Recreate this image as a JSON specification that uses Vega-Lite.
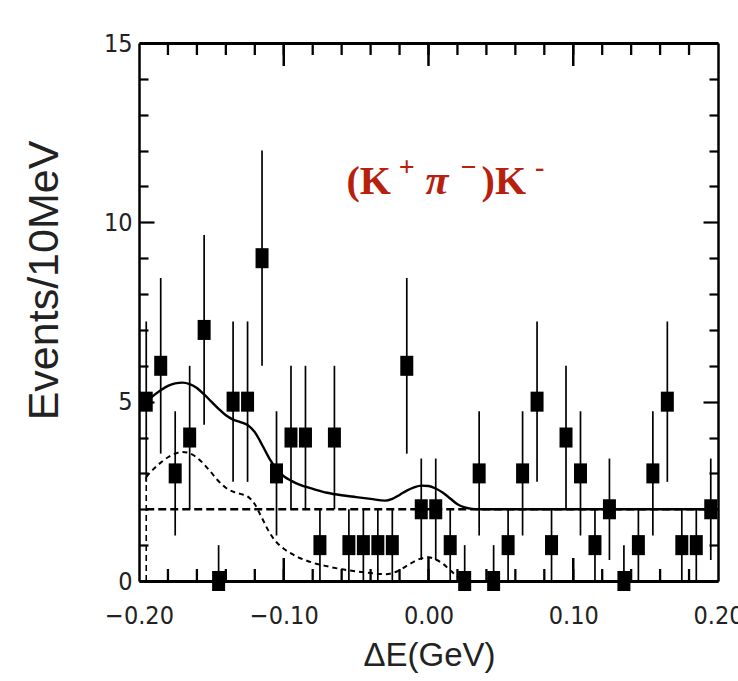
{
  "$schema": "https://vega.github.io/schema/vega-lite/v6.json",
  "width": 579,
  "height": 538,
  "autosize": "none",
  "padding": {"left": 139, "top": 43, "right": 20, "bottom": 100},
  "background": "white",
  "config": {"view": {"stroke": null}},
  "datasets": {
    "pts": [
      {"x": -0.195, "n": 5, "lo": 2.764, "hi": 7.236},
      {"x": -0.185, "n": 6, "lo": 3.551, "hi": 8.449},
      {"x": -0.175, "n": 3, "lo": 1.268, "hi": 4.732},
      {"x": -0.165, "n": 4, "lo": 2, "hi": 6},
      {"x": -0.155, "n": 7, "lo": 4.354, "hi": 9.646},
      {"x": -0.145, "n": 0, "lo": 0, "hi": 1},
      {"x": -0.135, "n": 5, "lo": 2.764, "hi": 7.236},
      {"x": -0.125, "n": 5, "lo": 2.764, "hi": 7.236},
      {"x": -0.115, "n": 9, "lo": 6, "hi": 12},
      {"x": -0.105, "n": 3, "lo": 1.268, "hi": 4.732},
      {"x": -0.095, "n": 4, "lo": 2, "hi": 6},
      {"x": -0.085, "n": 4, "lo": 2, "hi": 6},
      {"x": -0.075, "n": 1, "lo": 0, "hi": 2},
      {"x": -0.065, "n": 4, "lo": 2, "hi": 6},
      {"x": -0.055, "n": 1, "lo": 0, "hi": 2},
      {"x": -0.045, "n": 1, "lo": 0, "hi": 2},
      {"x": -0.035, "n": 1, "lo": 0, "hi": 2},
      {"x": -0.025, "n": 1, "lo": 0, "hi": 2},
      {"x": -0.015, "n": 6, "lo": 3.551, "hi": 8.449},
      {"x": -0.005, "n": 2, "lo": 0.586, "hi": 3.414},
      {"x": 0.005, "n": 2, "lo": 0.586, "hi": 3.414},
      {"x": 0.015, "n": 1, "lo": 0, "hi": 2},
      {"x": 0.025, "n": 0, "lo": 0, "hi": 1},
      {"x": 0.035, "n": 3, "lo": 1.268, "hi": 4.732},
      {"x": 0.045, "n": 0, "lo": 0, "hi": 1},
      {"x": 0.055, "n": 1, "lo": 0, "hi": 2},
      {"x": 0.065, "n": 3, "lo": 1.268, "hi": 4.732},
      {"x": 0.075, "n": 5, "lo": 2.764, "hi": 7.236},
      {"x": 0.085, "n": 1, "lo": 0, "hi": 2},
      {"x": 0.095, "n": 4, "lo": 2, "hi": 6},
      {"x": 0.105, "n": 3, "lo": 1.268, "hi": 4.732},
      {"x": 0.115, "n": 1, "lo": 0, "hi": 2},
      {"x": 0.125, "n": 2, "lo": 0.586, "hi": 3.414},
      {"x": 0.135, "n": 0, "lo": 0, "hi": 1},
      {"x": 0.145, "n": 1, "lo": 0, "hi": 2},
      {"x": 0.155, "n": 3, "lo": 1.268, "hi": 4.732},
      {"x": 0.165, "n": 5, "lo": 2.764, "hi": 7.236},
      {"x": 0.175, "n": 1, "lo": 0, "hi": 2},
      {"x": 0.185, "n": 1, "lo": 0, "hi": 2},
      {"x": 0.195, "n": 2, "lo": 0.586, "hi": 3.414}
    ],
    "xticks": [
      {"x": -0.18, "k": "minor"}, {"x": -0.16, "k": "minor"}, {"x": -0.14, "k": "minor"}, {"x": -0.12, "k": "minor"},
      {"x": -0.1, "k": "major"}, {"x": -0.08, "k": "minor"}, {"x": -0.06, "k": "minor"}, {"x": -0.04, "k": "minor"},
      {"x": -0.02, "k": "minor"}, {"x": 0, "k": "major"}, {"x": 0.02, "k": "minor"}, {"x": 0.04, "k": "minor"},
      {"x": 0.06, "k": "minor"}, {"x": 0.08, "k": "minor"}, {"x": 0.1, "k": "major"}, {"x": 0.12, "k": "minor"},
      {"x": 0.14, "k": "minor"}, {"x": 0.16, "k": "minor"}, {"x": 0.18, "k": "minor"}
    ],
    "curves": [
      {"s": "total", "x": -0.195, "y": 5.0},
      {"s": "total", "x": -0.19, "y": 5.17},
      {"s": "total", "x": -0.185, "y": 5.32},
      {"s": "total", "x": -0.18, "y": 5.44},
      {"s": "total", "x": -0.175, "y": 5.51},
      {"s": "total", "x": -0.17, "y": 5.53},
      {"s": "total", "x": -0.165, "y": 5.49},
      {"s": "total", "x": -0.16, "y": 5.38},
      {"s": "total", "x": -0.155, "y": 5.2},
      {"s": "total", "x": -0.15, "y": 5.0},
      {"s": "total", "x": -0.145, "y": 4.8},
      {"s": "total", "x": -0.14, "y": 4.62},
      {"s": "total", "x": -0.135, "y": 4.5},
      {"s": "total", "x": -0.13, "y": 4.43},
      {"s": "total", "x": -0.125, "y": 4.35},
      {"s": "total", "x": -0.12, "y": 4.15},
      {"s": "total", "x": -0.115, "y": 3.8},
      {"s": "total", "x": -0.11, "y": 3.42},
      {"s": "total", "x": -0.105, "y": 3.12},
      {"s": "total", "x": -0.1, "y": 2.92},
      {"s": "total", "x": -0.095, "y": 2.8},
      {"s": "total", "x": -0.09, "y": 2.7},
      {"s": "total", "x": -0.085, "y": 2.63},
      {"s": "total", "x": -0.08, "y": 2.57},
      {"s": "total", "x": -0.07, "y": 2.46},
      {"s": "total", "x": -0.06, "y": 2.39},
      {"s": "total", "x": -0.05, "y": 2.34},
      {"s": "total", "x": -0.04, "y": 2.29},
      {"s": "total", "x": -0.03, "y": 2.24},
      {"s": "total", "x": -0.025, "y": 2.29},
      {"s": "total", "x": -0.02, "y": 2.4},
      {"s": "total", "x": -0.015, "y": 2.52},
      {"s": "total", "x": -0.01, "y": 2.61},
      {"s": "total", "x": -0.005, "y": 2.66},
      {"s": "total", "x": 0.0, "y": 2.65},
      {"s": "total", "x": 0.005, "y": 2.58},
      {"s": "total", "x": 0.01, "y": 2.46},
      {"s": "total", "x": 0.015, "y": 2.3},
      {"s": "total", "x": 0.02, "y": 2.14},
      {"s": "total", "x": 0.025, "y": 2.05},
      {"s": "total", "x": 0.03, "y": 2.01},
      {"s": "total", "x": 0.035, "y": 2.0},
      {"s": "total", "x": 0.2, "y": 2.0},
      {"s": "peak", "x": -0.195, "y": 2.9},
      {"s": "peak", "x": -0.19, "y": 3.12},
      {"s": "peak", "x": -0.185, "y": 3.3},
      {"s": "peak", "x": -0.18, "y": 3.45},
      {"s": "peak", "x": -0.175, "y": 3.55},
      {"s": "peak", "x": -0.17, "y": 3.6},
      {"s": "peak", "x": -0.165, "y": 3.56},
      {"s": "peak", "x": -0.16, "y": 3.44},
      {"s": "peak", "x": -0.155, "y": 3.25},
      {"s": "peak", "x": -0.15, "y": 3.02},
      {"s": "peak", "x": -0.145, "y": 2.78},
      {"s": "peak", "x": -0.14, "y": 2.6},
      {"s": "peak", "x": -0.135, "y": 2.49},
      {"s": "peak", "x": -0.13, "y": 2.43},
      {"s": "peak", "x": -0.125, "y": 2.36},
      {"s": "peak", "x": -0.12, "y": 2.14},
      {"s": "peak", "x": -0.115, "y": 1.75},
      {"s": "peak", "x": -0.11, "y": 1.36},
      {"s": "peak", "x": -0.105, "y": 1.08},
      {"s": "peak", "x": -0.1, "y": 0.9},
      {"s": "peak", "x": -0.095, "y": 0.77},
      {"s": "peak", "x": -0.09, "y": 0.66},
      {"s": "peak", "x": -0.085, "y": 0.58},
      {"s": "peak", "x": -0.08, "y": 0.51},
      {"s": "peak", "x": -0.07, "y": 0.41},
      {"s": "peak", "x": -0.06, "y": 0.33},
      {"s": "peak", "x": -0.05, "y": 0.27},
      {"s": "peak", "x": -0.04, "y": 0.22},
      {"s": "peak", "x": -0.03, "y": 0.19},
      {"s": "peak", "x": -0.025, "y": 0.22},
      {"s": "peak", "x": -0.02, "y": 0.3},
      {"s": "peak", "x": -0.015, "y": 0.42},
      {"s": "peak", "x": -0.01, "y": 0.54},
      {"s": "peak", "x": -0.005, "y": 0.63},
      {"s": "peak", "x": 0.0, "y": 0.66},
      {"s": "peak", "x": 0.005, "y": 0.6},
      {"s": "peak", "x": 0.01, "y": 0.48},
      {"s": "peak", "x": 0.015, "y": 0.3},
      {"s": "peak", "x": 0.02, "y": 0.13},
      {"s": "peak", "x": 0.025, "y": 0.03},
      {"s": "peak", "x": 0.03, "y": 0.0},
      {"s": "bkg", "x": -0.195, "y": 2.0},
      {"s": "bkg", "x": 0.2, "y": 2.0}
    ],
    "verticals": [
      {"x": -0.195, "y": 0, "y2": 2.9}
    ],
    "labelMain": [
      {"x": -0.0567, "y": 10.8, "t": "(K"},
      {"x": 0.0367, "y": 10.8, "t": ")K"}
    ],
    "labelPi": [
      {"x": -0.0021, "y": 10.8, "t": "π"}
    ],
    "labelSup": [
      {"x": -0.0205, "y": 11.3, "t": "+"},
      {"x": 0.0222, "y": 11.3, "t": "−"},
      {"x": 0.0735, "y": 11.3, "t": "-"}
    ]
  },
  "layer": [
    {
      "data": {"name": "xticks"},
      "mark": {"type": "rule", "color": "black", "strokeWidth": 2.3},
      "encoding": {
        "x": {"field": "x", "type": "quantitative", "scale": {"domain": [-0.2, 0.2], "nice": false, "zero": false}, "axis": null},
        "y": {"datum": 0, "type": "quantitative", "scale": {"domain": [0, 15], "nice": false}, "axis": null},
        "y2": {"datum": 0.334}
      }
    },
    {
      "data": {"name": "xticks"},
      "mark": {"type": "rule", "color": "black", "strokeWidth": 2.3},
      "encoding": {
        "x": {"field": "x", "type": "quantitative", "axis": null},
        "y": {"datum": 15, "type": "quantitative", "axis": null},
        "y2": {"datum": 14.666}
      }
    },
    {
      "data": {"name": "xticks"},
      "transform": [{"filter": "datum.k === 'major'"}],
      "mark": {"type": "rule", "color": "black", "strokeWidth": 2.5},
      "encoding": {
        "x": {"field": "x", "type": "quantitative", "axis": null},
        "y": {"datum": 0, "type": "quantitative", "axis": null},
        "y2": {"datum": 0.641}
      }
    },
    {
      "data": {"name": "xticks"},
      "transform": [{"filter": "datum.k === 'major'"}],
      "mark": {"type": "rule", "color": "black", "strokeWidth": 2.5},
      "encoding": {
        "x": {"field": "x", "type": "quantitative", "axis": null},
        "y": {"datum": 15, "type": "quantitative", "axis": null},
        "y2": {"datum": 14.359}
      }
    },
    {
      "data": {"name": "curves"},
      "transform": [{"filter": "datum.s === 'total'"}],
      "mark": {"type": "line", "color": "black", "strokeWidth": 2.4, "interpolate": "monotone"},
      "encoding": {
        "x": {"field": "x", "type": "quantitative", "axis": null},
        "y": {"field": "y", "type": "quantitative", "axis": null}
      }
    },
    {
      "data": {"name": "curves"},
      "transform": [{"filter": "datum.s === 'peak'"}],
      "mark": {"type": "line", "color": "black", "strokeWidth": 2, "strokeDash": [5, 4], "interpolate": "monotone"},
      "encoding": {
        "x": {"field": "x", "type": "quantitative", "axis": null},
        "y": {"field": "y", "type": "quantitative", "axis": null}
      }
    },
    {
      "data": {"name": "curves"},
      "transform": [{"filter": "datum.s === 'bkg'"}],
      "mark": {"type": "line", "color": "black", "strokeWidth": 2.4, "strokeDash": [8, 4]},
      "encoding": {
        "x": {"field": "x", "type": "quantitative", "axis": null},
        "y": {"field": "y", "type": "quantitative", "axis": null}
      }
    },
    {
      "data": {"name": "verticals"},
      "mark": {"type": "rule", "color": "black", "strokeWidth": 1.6, "strokeDash": [6, 4]},
      "encoding": {
        "x": {"field": "x", "type": "quantitative", "axis": null},
        "y": {"field": "y", "type": "quantitative", "axis": null},
        "y2": {"field": "y2"}
      }
    },
    {
      "data": {"name": "pts"},
      "mark": {"type": "rule", "color": "black", "strokeWidth": 1.7},
      "encoding": {
        "x": {"field": "x", "type": "quantitative",
          "axis": {"orient": "top", "labels": false, "ticks": false, "title": null, "grid": false, "domainColor": "black", "domainWidth": 3}},
        "y": {"field": "lo", "type": "quantitative",
          "axis": {"orient": "right", "values": [0,1,2,3,4,5,6,7,8,9,10,11,12,13,14,15],
            "labels": false, "title": null, "grid": false, "domainColor": "black", "domainWidth": 2.5, "tickColor": "black", "tickWidth": 2.2,
            "tickSize": {"condition": {"test": "datum.value % 5 === 0", "value": -15}, "value": -9}}},
        "y2": {"field": "hi"}
      }
    },
    {
      "data": {"name": "pts"},
      "mark": {"type": "point", "shape": "M-1,-1.54L1,-1.54L1,1.54L-1,1.54Z", "size": 169, "filled": true, "color": "black", "opacity": 1},
      "encoding": {
        "x": {"field": "x", "type": "quantitative",
          "axis": {"orient": "bottom", "values": [-0.2, -0.1, 0, 0.1, 0.2], "format": ".2f",
            "grid": false, "ticks": false, "domainColor": "black", "domainWidth": 3,
            "labelFont": "Liberation Sans Narrow, DejaVu Sans Condensed, sans-serif", "labelFontSize": 25, "labelColor": "#222",
            "labelPadding": 22, "labelFlush": false, "labelOverlap": false,
            "title": "ΔE(GeV)", "titleFont": "Liberation Sans, Arial, sans-serif", "titleFontSize": 33, "titleFontWeight": "normal", "titleColor": "#222",
            "titleBaseline": "alphabetic", "titleX": 290, "titleY": 84, "titleAnchor": "middle"}},
        "y": {"field": "n", "type": "quantitative",
          "axis": {"orient": "left", "values": [0,1,2,3,4,5,6,7,8,9,10,11,12,13,14,15],
            "grid": false, "domainColor": "black", "domainWidth": 2.5, "tickColor": "black", "tickWidth": 2.2,
            "tickSize": {"condition": {"test": "datum.value % 5 === 0", "value": -15}, "value": -9},
            "labelExpr": "datum.value % 5 === 0 ? datum.label : ''",
            "labelFont": "Liberation Sans Narrow, DejaVu Sans Condensed, sans-serif", "labelFontSize": 25, "labelColor": "#222",
            "labelPadding": 22, "labelFlush": false, "labelOverlap": false,
            "title": "Events/10MeV", "titleFont": "Liberation Sans, Arial, sans-serif", "titleFontSize": 43, "titleFontWeight": "normal", "titleColor": "#222",
            "titleAngle": -90, "titleBaseline": "alphabetic", "titleAlign": "center", "titleX": -82, "titleY": 237}}
      }
    },
    {
      "data": {"name": "labelMain"},
      "mark": {"type": "text", "font": "Liberation Serif, Times New Roman, serif", "fontWeight": "bold", "fontSize": 40, "color": "#b8200e", "align": "left", "baseline": "alphabetic"},
      "encoding": {
        "x": {"field": "x", "type": "quantitative", "axis": null},
        "y": {"field": "y", "type": "quantitative", "axis": null},
        "text": {"field": "t"}
      }
    },
    {
      "data": {"name": "labelPi"},
      "mark": {"type": "text", "font": "Liberation Serif, Times New Roman, serif", "fontWeight": "bold", "fontStyle": "italic", "fontSize": 42, "color": "#b8200e", "align": "left", "baseline": "alphabetic"},
      "encoding": {
        "x": {"field": "x", "type": "quantitative", "axis": null},
        "y": {"field": "y", "type": "quantitative", "axis": null},
        "text": {"field": "t"}
      }
    },
    {
      "data": {"name": "labelSup"},
      "mark": {"type": "text", "font": "Liberation Serif, Times New Roman, serif", "fontWeight": "bold", "fontSize": 28, "color": "#b8200e", "align": "left", "baseline": "alphabetic"},
      "encoding": {
        "x": {"field": "x", "type": "quantitative", "axis": null},
        "y": {"field": "y", "type": "quantitative", "axis": null},
        "text": {"field": "t"}
      }
    }
  ],
  "resolve": {"axis": {"x": "independent", "y": "independent"}}
}
